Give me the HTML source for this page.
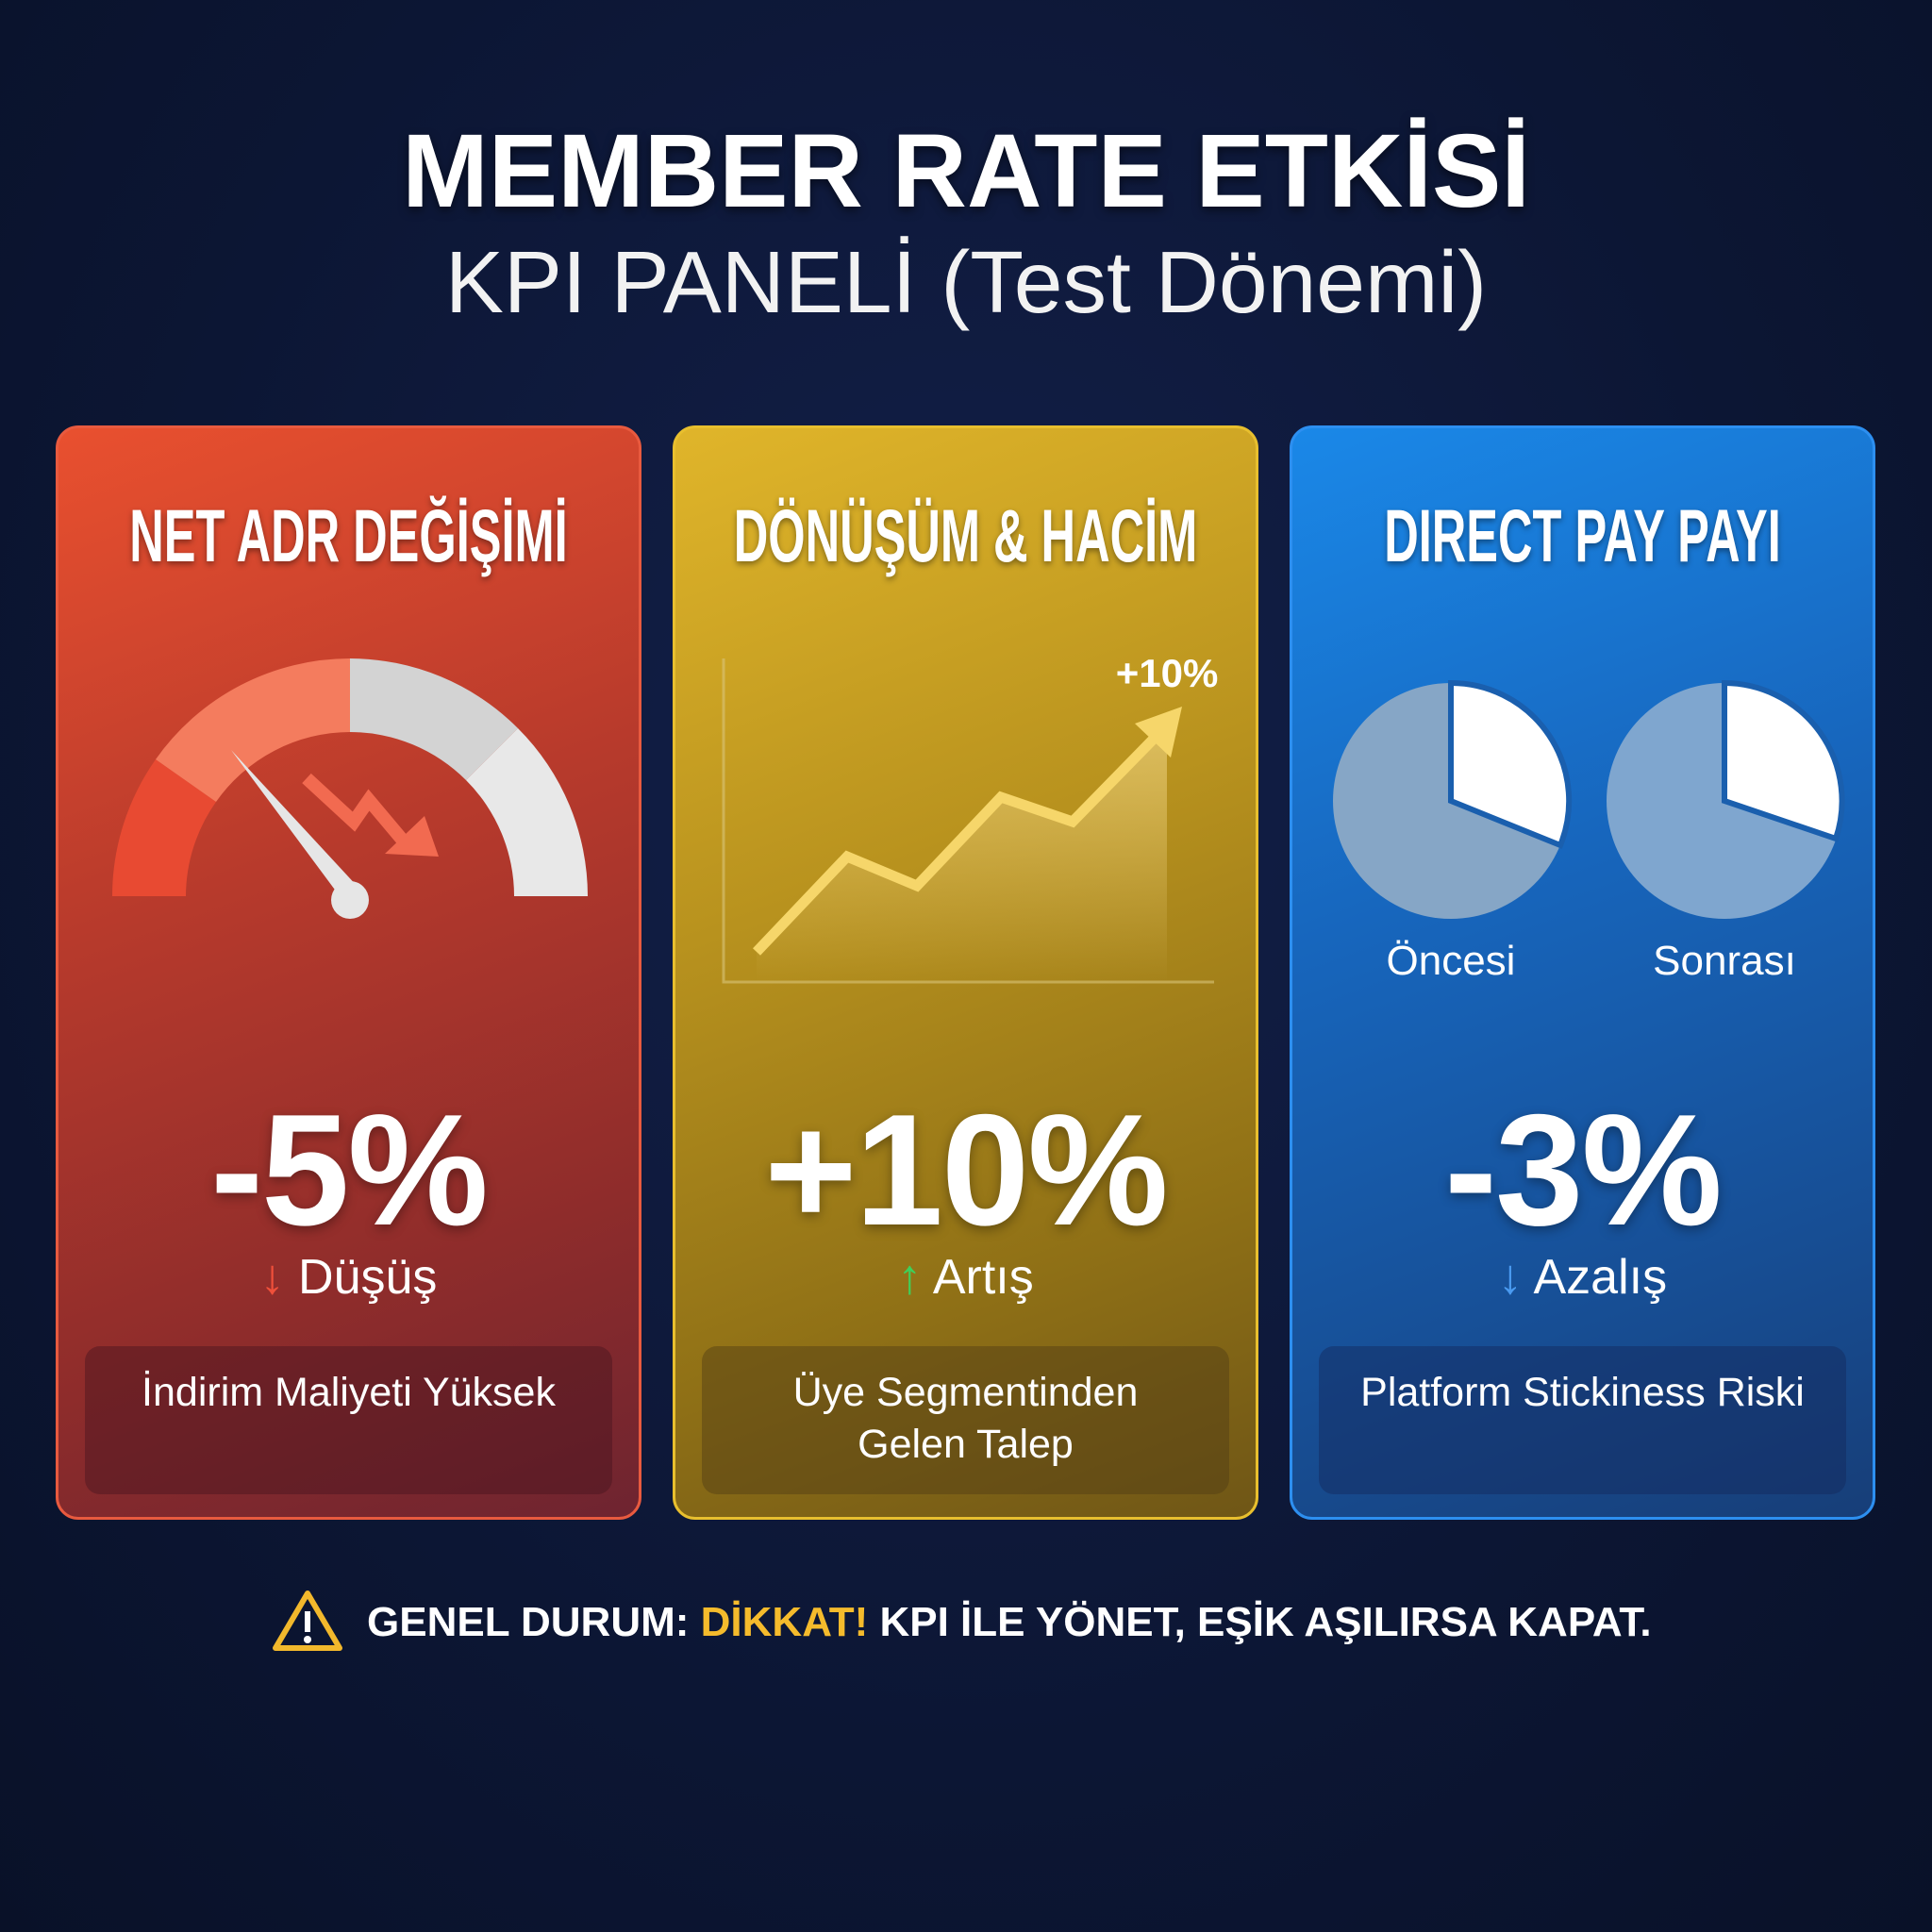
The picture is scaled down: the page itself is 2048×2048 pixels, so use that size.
<!DOCTYPE html>
<html><head><meta charset="utf-8"><style>
*{margin:0;padding:0;box-sizing:border-box}
body{width:2048px;height:2048px;background:radial-gradient(ellipse at 50% 40%,#13204a 0%,#0c1634 60%,#091128 100%);font-family:"Liberation Sans",sans-serif;color:#fff;position:relative;overflow:hidden}
.t1{position:absolute;top:118px;left:0;width:2048px;text-align:center;font-size:110px;font-weight:bold;letter-spacing:0px;text-shadow:0 4px 10px rgba(0,0,0,.5)}
.t2{position:absolute;top:246px;left:0;width:2048px;text-align:center;font-size:93px;font-weight:normal;color:#f2f2f2}
.card{position:absolute;top:451px;width:621px;height:1160px;border-radius:24px;border:3px solid}
.red{left:59px;background:linear-gradient(160deg,#e9502f 0%,#b73a2c 40%,#8e2c2b 75%,#6e2430 100%);border-color:#e85a3f}
.yel{left:713px;background:linear-gradient(160deg,#e0b52a 0%,#b8921e 40%,#8f7016 75%,#6f5616 100%);border-color:#e8bf2e}
.blu{left:1367px;background:linear-gradient(160deg,#1a88e8 0%,#1766bd 40%,#174f96 75%,#173e78 100%);border-color:#2d8ff0}
.ct{position:absolute;top:68px;left:-200px;width:1015px;text-align:center;font-size:79px;font-weight:bold;white-space:nowrap;transform:scaleX(.64);transform-origin:50% 50%;text-shadow:0 3px 8px rgba(0,0,0,.4)}
.big{position:absolute;top:690px;left:0;width:100%;text-align:center;font-size:168px;font-weight:bold;letter-spacing:-2px;text-shadow:0 4px 12px rgba(0,0,0,.35)}
.sub{position:absolute;top:870px;left:0;width:100%;text-align:center;font-size:52px}
.box{position:absolute;left:28px;right:28px;top:973px;height:157px;border-radius:16px;text-align:center;font-size:43px;padding-top:22px;line-height:55px}
.lab{position:absolute;font-size:44px;top:540px;text-align:center;width:200px}
.foot{position:absolute;top:1695px;left:389px;font-size:44px;font-weight:bold;white-space:nowrap}
</style></head><body>
<div class="t1">MEMBER RATE ETKİSİ</div>
<div class="t2">KPI PANELİ (Test Dönemi)</div>

<div class="card red">
<div class="ct">NET ADR DEĞİŞİMİ</div>
<svg style="position:absolute;left:0;top:0" width="621" height="1160" viewBox="59 451 621 1160">
<g transform="translate(368,947)">
<path d="M-252,0 A252,252 0 0 1 -206,-145 L-142,-100 A174,174 0 0 0 -174,0 Z" fill="#e84a32"/>
<path d="M-206,-145 A252,252 0 0 1 0,-252 L0,-174 A174,174 0 0 0 -142,-100 Z" fill="#f47c5e"/>
<path d="M0,-252 A252,252 0 0 1 178,-178 L123,-123 A174,174 0 0 0 0,-174 Z" fill="#d3d3d3"/>
<path d="M178,-178 A252,252 0 0 1 252,0 L174,0 A174,174 0 0 0 123,-123 Z" fill="#e8e8e8"/>
<polygon points="-126,-155 -8,4 10,-8" fill="#e6e6e6"/>
<circle cx="0" cy="4" r="20" fill="#e6e6e6"/>
</g>
<polyline points="322,822 372,868 388,845 430,895" fill="none" stroke="#f26a50" stroke-width="14"/>
<polygon points="405,902 462,905 447,862" fill="#f26a50"/>
</svg>
<div class="big">-5%</div>
<div class="sub"><span style="color:#f0503a;font-weight:bold">↓</span> Düşüş</div>
<div class="box" style="background:rgba(70,20,30,.45)">İndirim Maliyeti Yüksek</div>
</div>

<div class="card yel">
<div class="ct">DÖNÜŞÜM &amp; HACİM</div>
<svg style="position:absolute;left:0;top:0" width="621" height="1160" viewBox="713 451 621 1160">
<defs><linearGradient id="g" x1="0" y1="0" x2="0" y2="1"><stop offset="0" stop-color="#f3d98a" stop-opacity=".6"/><stop offset="1" stop-color="#f3d98a" stop-opacity="0"/></linearGradient></defs>
<polyline points="764,695 764,1038 1284,1038" fill="none" stroke="#d8c47a" stroke-opacity=".6" stroke-width="3"/>
<polygon points="799,1006 895,905 969,936 1058,842 1134,868 1234,768 1234,1038 799,1038" fill="url(#g)"/>
<polyline points="799,1006 895,905 969,936 1058,842 1134,868 1222,778" fill="none" stroke="#f6d66a" stroke-width="11"/>
<polygon points="1250,746 1238,800 1200,764" fill="#f6d66a"/>
<text x="1234" y="725" text-anchor="middle" font-family="Liberation Sans" font-weight="bold" font-size="42" fill="#fff">+10%</text>
</svg>
<div class="big">+10%</div>
<div class="sub"><span style="color:#3fcf5a;font-weight:bold">↑</span> Artış</div>
<div class="box" style="background:rgba(80,60,20,.45)">Üye Segmentinden<br>Gelen Talep</div>
</div>

<div class="card blu">
<div class="ct">DIRECT PAY PAYI</div>
<svg style="position:absolute;left:0;top:0" width="621" height="1160" viewBox="1367 451 621 1160">
<circle cx="1535" cy="846" r="125" fill="#86a6c6"/>
<path d="M1535,846 L1535,721 A125,125 0 0 1 1651,893 Z" fill="#fff" stroke="#1a5fae" stroke-width="6"/>
<circle cx="1825" cy="846" r="125" fill="#7fa6cf"/>
<path d="M1825,846 L1825,721 A125,125 0 0 1 1943,886 Z" fill="#fff" stroke="#1a5fae" stroke-width="6"/>
</svg>
<div class="lab" style="left:68px">Öncesi</div>
<div class="lab" style="left:358px">Sonrası</div>
<div class="big">-3%</div>
<div class="sub"><span style="color:#4a9af0;font-weight:bold">↓</span> Azalış</div>
<div class="box" style="background:rgba(20,40,90,.45)">Platform Stickiness Riski</div>
</div>

<svg style="position:absolute;left:288px;top:1684px" width="76" height="68" viewBox="0 0 76 68">
<path d="M38,5 L72,63 L4,63 Z" fill="none" stroke="#f2b82c" stroke-width="6" stroke-linejoin="round"/>
<rect x="35" y="24" width="6" height="22" fill="#fff"/><circle cx="38" cy="54" r="4" fill="#fff"/>
</svg>
<div class="foot">GENEL DURUM: <span style="color:#f5bb2c">DİKKAT!</span> KPI İLE YÖNET, EŞİK AŞILIRSA KAPAT.</div>
</body></html>
